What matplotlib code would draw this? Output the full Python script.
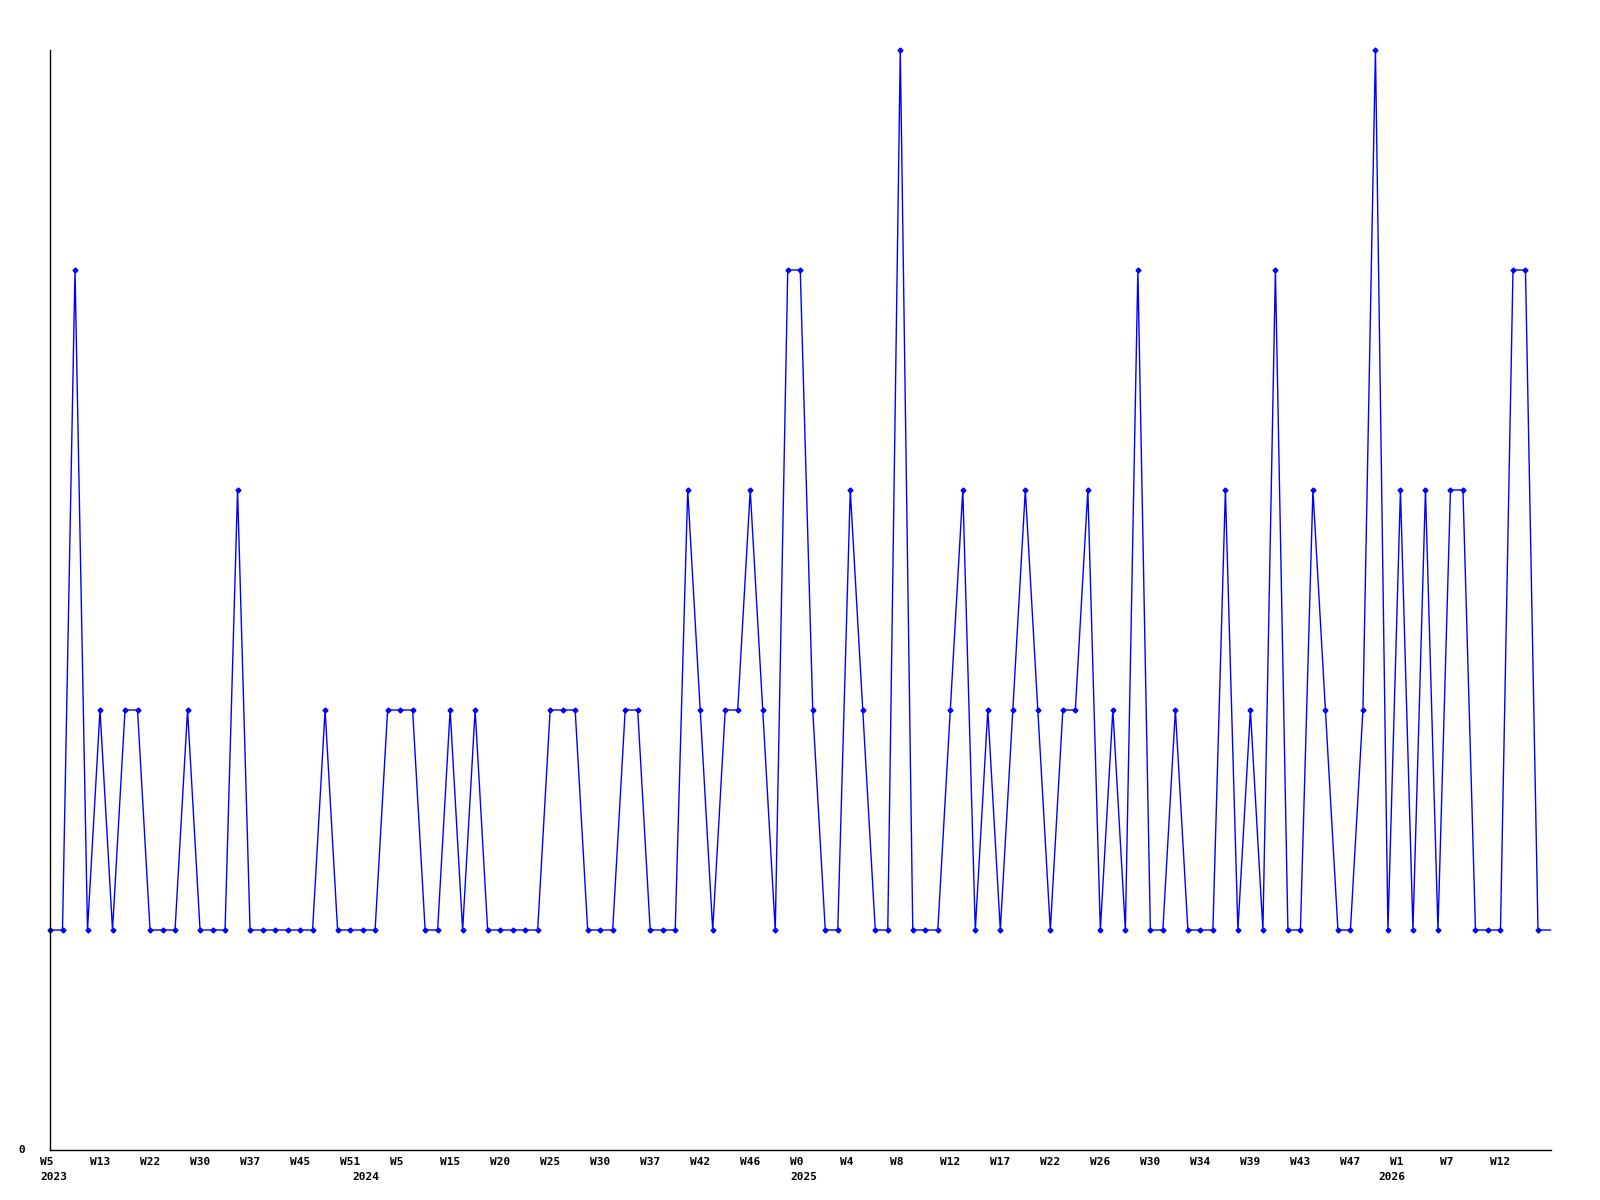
import matplotlib.pyplot as plt
from matplotlib.transforms import offset_copy

# =========================
# 数据
# =========================

values = [
    1, 1, 4, 1, 2, 1, 2, 2, 1, 1, 1, 2, 1, 1, 1, 3, 1, 1, 1, 1, 1,
    1, 2, 1, 1, 1, 1, 2, 2, 2, 1, 1, 2, 1, 2, 1, 1, 1, 1, 1, 2, 2,
    2, 1, 1, 1, 2, 2, 1, 1, 1, 3, 2, 1, 2, 2, 3, 2, 1, 4, 4, 2, 1,
    1, 3, 2, 1, 1, 5, 1, 1, 1, 2, 3, 1, 2, 1, 2, 3, 2, 1, 2, 2, 3,
    1, 2, 1, 4, 1, 1, 2, 1, 1, 1, 3, 1, 2, 1, 4, 1, 1, 3, 2, 1, 1,
    2, 5, 1, 3, 1, 3, 1, 3, 3, 1, 1, 1, 4, 4, 1, 1,
]

week_labels = [
    "W5", "W13", "W22", "W30", "W37", "W45", "W51", "W5", "W15", "W20",
    "W25", "W30", "W37", "W42", "W46", "W0", "W4", "W8", "W12", "W17",
    "W22", "W26", "W30", "W34", "W39", "W43", "W47", "W1", "W7", "W12",
]
week_pos = list(range(0, 120, 4))

year_labels = ["2023", "2024", "2025", "2026"]
year_pos = [0, 25, 60, 107]

# =========================
# 绘图
# =========================

fig = plt.figure(figsize=(16, 12), dpi=100)
ax = fig.add_axes([50 / 1600, 50 / 1200, 1500.5 / 1600, 1100 / 1200])

x = list(range(len(values)))
ax.plot(
    x, values,
    color="#0000ff",
    linewidth=1,
    marker="D",
    markersize=2.5,
    markevery=list(range(len(values) - 1)),
    clip_on=False,
)

ax.set_xlim(0, len(values) - 1)
ax.set_ylim(0, 5)

for s in ["top", "right"]:
    ax.spines[s].set_visible(False)
for s in ["left", "bottom"]:
    ax.spines[s].set_color("black")
    ax.spines[s].set_linewidth(1)

ax.set_xticks([])
ax.set_yticks([])

font = dict(family="DejaVu Sans Mono", fontweight="bold", fontsize=8, color="black")

# y 轴只有 "0"
ax.text(0, 0, "0", transform=offset_copy(ax.transData, fig=fig, x=-25, y=0, units="dots"),
        ha="right", va="center", **font)

# 周标签（左对齐，向左偏 10 像素）
trans_w = offset_copy(ax.get_xaxis_transform(), fig=fig, x=-10, y=-12, units="dots")
for p, lab in zip(week_pos, week_labels):
    ax.text(p, 0, lab, transform=trans_w, ha="left", va="center", **font)

# 年份标签
trans_y = offset_copy(ax.get_xaxis_transform(), fig=fig, x=-10, y=-27, units="dots")
for p, lab in zip(year_pos, year_labels):
    ax.text(p, 0, lab, transform=trans_y, ha="left", va="center", **font)

plt.savefig("out.png", dpi=100)
